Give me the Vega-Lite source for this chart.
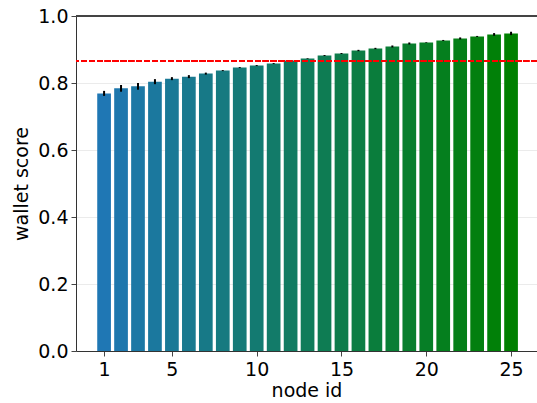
{
  "$schema": "https://vega.github.io/schema/vega-lite/v6.json",
  "autosize": "none",
  "width": 461,
  "height": 335,
  "padding": {"left": 76, "top": 16, "right": 0, "bottom": 52},
  "background": "white",
  "config": {
    "view": {"stroke": null},
    "font": "DejaVu Sans",
    "axis": {"labelFont": "DejaVu Sans", "titleFont": "DejaVu Sans", "labelFontSize": 19, "titleFontSize": 19, "labelColor": "black", "titleColor": "black", "titleFontWeight": "normal", "domainColor": "#333", "tickColor": "#444", "tickSize": 5}
  },
  "data": {
    "values": [
      {"node": 1, "score": 0.769, "err": 0.0075},
      {"node": 2, "score": 0.784, "err": 0.010},
      {"node": 3, "score": 0.790, "err": 0.010},
      {"node": 4, "score": 0.804, "err": 0.0075},
      {"node": 5, "score": 0.813, "err": 0.0045},
      {"node": 6, "score": 0.819, "err": 0.0045},
      {"node": 7, "score": 0.828, "err": 0.003},
      {"node": 8, "score": 0.837, "err": 0.0015},
      {"node": 9, "score": 0.846, "err": 0.0015},
      {"node": 10, "score": 0.852, "err": 0.0015},
      {"node": 11, "score": 0.858, "err": 0.0015},
      {"node": 12, "score": 0.867, "err": 0.001},
      {"node": 13, "score": 0.873, "err": 0.001},
      {"node": 14, "score": 0.882, "err": 0.0015},
      {"node": 15, "score": 0.888, "err": 0.0015},
      {"node": 16, "score": 0.897, "err": 0.002},
      {"node": 17, "score": 0.903, "err": 0.002},
      {"node": 18, "score": 0.909, "err": 0.003},
      {"node": 19, "score": 0.918, "err": 0.003},
      {"node": 20, "score": 0.921, "err": 0.001},
      {"node": 21, "score": 0.927, "err": 0.0015},
      {"node": 22, "score": 0.933, "err": 0.003},
      {"node": 23, "score": 0.939, "err": 0.0015},
      {"node": 24, "score": 0.945, "err": 0.004},
      {"node": 25, "score": 0.948, "err": 0.005}
    ]
  },
  "layer": [
    {
      "mark": {"type": "bar", "size": 13.7},
      "encoding": {
        "x": {"field": "node", "type": "quantitative", "scale": {"domain": [-0.656, 26.53], "nice": false, "zero": false, "padding": 0}, "axis": {"values": [1, 5, 10, 15, 20, 25], "title": "node id", "grid": false, "labelPadding": 4, "titlePadding": 2}},
        "y": {"field": "score", "type": "quantitative", "scale": {"domain": [0, 1], "nice": false, "padding": 0}, "axis": {"values": [0, 0.2, 0.4, 0.6, 0.8, 1.0], "format": ".1f", "title": "wallet score", "grid": true, "gridColor": "#ebebeb", "gridWidth": 1, "labelPadding": 3, "titlePadding": 6}},
        "color": {"field": "node", "type": "quantitative", "scale": {"domain": [1, 25], "range": ["#1f77b4", "#008000"], "interpolate": "rgb"}, "legend": null}
      }
    },
    {
      "mark": {"type": "errorbar", "color": "black", "thickness": 2},
      "encoding": {
        "x": {"field": "node", "type": "quantitative"},
        "y": {"field": "score", "type": "quantitative", "title": "wallet score"},
        "yError": {"field": "err"}
      }
    },
    {
      "mark": {"type": "rule", "color": "#ff0000", "strokeWidth": 1.5, "strokeDash": [5.5, 2.4]},
      "encoding": {"y": {"datum": 0.866}}
    },
    {
      "mark": {"type": "rule", "color": "#444", "strokeWidth": 1.2},
      "encoding": {"y": {"datum": 1.0}}
    }
  ]
}
